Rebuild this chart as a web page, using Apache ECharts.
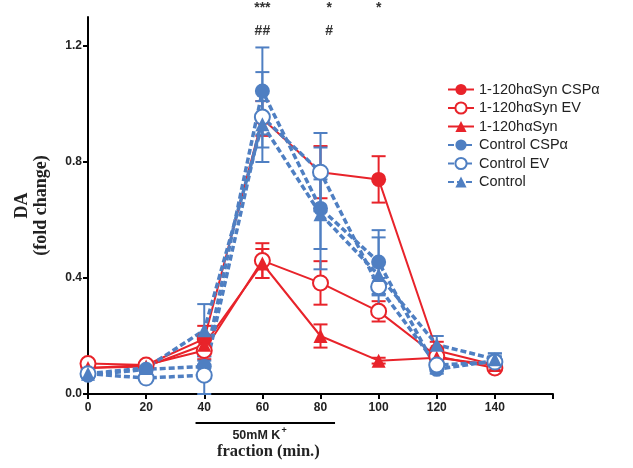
<!DOCTYPE html>
<html><head><meta charset="utf-8">
<script src="https://cdn.jsdelivr.net/npm/echarts@6/dist/echarts.min.js"></script>
<style>html,body{margin:0;padding:0;background:#fff}#c{width:633px;height:468px}</style>
</head><body><div id="c"></div>
<script>
const xValues = [0, 20, 40, 60, 80, 100, 120, 140];
const xTickLabels = [0, 20, 40, 60, 80, 100, 120, 140];
const yTickLabels = [0, 0.4, 0.8, 1.2];

const synCspMean = [0.09, 0.10, 0.19, 0.95, 0.765, 0.74, 0.15, 0.10];
const synCspErr  = [0.01, 0.01, 0.045, 0.06, 0.09, 0.08, 0.03, 0.015];
const synEvMean  = [0.105, 0.10, 0.15, 0.46, 0.383, 0.285, 0.13, 0.09];
const synEvErr   = [0.01, 0.01, 0.03, 0.06, 0.075, 0.035, 0.02, 0.01];
const synMean    = [0.09, 0.095, 0.17, 0.45, 0.20, 0.115, 0.125, 0.10];
const synErr     = [0.01, 0.01, 0.03, 0.05, 0.04, 0.01, 0.02, 0.01];
const ctlCspMean = [0.065, 0.085, 0.095, 1.045, 0.64, 0.455, 0.085, 0.115];
const ctlCspErr  = [0.01, 0.01, 0.02, 0.15, 0.21, 0.11, 0.015, 0.025];
const ctlEvMean  = [0.07, 0.055, 0.065, 0.955, 0.765, 0.37, 0.10, 0.11];
const ctlEvErr   = [0.01, 0.01, 0.065, 0.155, 0.135, 0.03, 0.02, 0.02];
const ctlMean    = [0.07, 0.09, 0.22, 0.93, 0.62, 0.41, 0.17, 0.12];
const ctlErr     = [0.01, 0.01, 0.09, 0.08, 0.12, 0.13, 0.03, 0.02];

const seriesNames = ['1-120hαSyn CSPα', '1-120hαSyn EV', '1-120hαSyn', 'Control CSPα', 'Control EV', 'Control'];
const annotations = [
  {x: 60, text: '***', row: 0}, {x: 60, text: '##', row: 1},
  {x: 83, text: '*', row: 0}, {x: 83, text: '#', row: 1},
  {x: 100, text: '*', row: 0}
];
const stimulusRange = [37, 85];

const RED = '#e8232a', BLUE = '#4f7fc2';

function lineSeries(name, mean, color, symbol, dashed) {
  return {
    type: 'line', name: name,
    data: xValues.map((x, i) => [x, mean[i]]),
    symbol: symbol, symbolSize: symbol === 'triangle' ? 14 : 15,
    itemStyle: {color: color, borderColor: color, borderWidth: symbol === 'emptyCircle' ? 2 : 0},
    lineStyle: {color: color, width: dashed ? 3.5 : 2, type: dashed ? [6, 3] : 'solid'},
    z: 3
  };
}
function errSeries(id, mean, err, color) {
  return {
    type: 'custom', name: id, silent: true, z: 2,
    data: xValues.map((x, i) => [x, mean[i] - err[i], mean[i] + err[i]]),
    encode: {x: 0, y: [1, 2]},
    renderItem: function (params, api) {
      const xv = api.value(0);
      const lo = api.coord([xv, api.value(1)]);
      const hi = api.coord([xv, api.value(2)]);
      const w = 7;
      const st = {stroke: color, lineWidth: 2};
      return {type: 'group', children: [
        {type: 'line', shape: {x1: lo[0], y1: lo[1], x2: hi[0], y2: hi[1]}, style: st},
        {type: 'line', shape: {x1: lo[0] - w, y1: lo[1], x2: lo[0] + w, y2: lo[1]}, style: st},
        {type: 'line', shape: {x1: hi[0] - w, y1: hi[1], x2: hi[0] + w, y2: hi[1]}, style: st}
      ]};
    }
  };
}

const chart = echarts.init(document.getElementById('c'), null, {renderer: 'canvas'});
const axisFont = {fontFamily: 'Liberation Sans, Arial', fontWeight: 'bold', fontSize: 12, color: '#222'};
const option = {
  backgroundColor: '#fff',
  animation: false,
  grid: {left: 88, right: 80, top: 17, bottom: 74, containLabel: false, outerBoundsMode: 'none'},
  legend: {
    data: seriesNames, orient: 'vertical', left: 442, top: 77,
    itemWidth: 26, itemHeight: 14, itemGap: 3.5,
    textStyle: {fontFamily: 'Liberation Sans, Arial', fontSize: 14.5, color: '#222'}
  },
  xAxis: {
    type: 'value', min: 0, max: 160, interval: 20,
    axisLine: {lineStyle: {color: '#000', width: 2}},
    axisTick: {inside: false, length: 5, lineStyle: {color: '#000', width: 2}},
    axisLabel: Object.assign({margin: 8, customValues: xTickLabels, formatter: v => String(v)}, axisFont),
    splitLine: {show: false}
  },
  yAxis: {
    type: 'value', min: 0, max: 1.3, interval: 0.4,
    name: 'DA\n(fold change)', nameLocation: 'middle', nameGap: 37, nameRotate: 90,
    nameTextStyle: {fontFamily: 'Liberation Serif, Times New Roman', fontWeight: 'bold', fontSize: 18, color: '#222', lineHeight: 19},
    axisLine: {show: true, lineStyle: {color: '#000', width: 2}},
    axisTick: {show: true, inside: false, length: 5, customValues: yTickLabels, lineStyle: {color: '#000', width: 2}},
    axisLabel: Object.assign({margin: 6, customValues: yTickLabels, formatter: v => v.toFixed(1)}, axisFont),
    splitLine: {show: false}
  },
  series: [
    errSeries('e1', synCspMean, synCspErr, RED),
    errSeries('e2', synEvMean, synEvErr, RED),
    errSeries('e3', synMean, synErr, RED),
    errSeries('e4', ctlCspMean, ctlCspErr, BLUE),
    errSeries('e5', ctlEvMean, ctlEvErr, BLUE),
    errSeries('e6', ctlMean, ctlErr, BLUE),
    lineSeries(seriesNames[0], synCspMean, RED, 'circle', false),
    lineSeries(seriesNames[1], synEvMean, RED, 'emptyCircle', false),
    lineSeries(seriesNames[2], synMean, RED, 'triangle', false),
    lineSeries(seriesNames[3], ctlCspMean, BLUE, 'circle', true),
    lineSeries(seriesNames[4], ctlEvMean, BLUE, 'emptyCircle', true),
    lineSeries(seriesNames[5], ctlMean, BLUE, 'triangle', true)
  ]
};
chart.setOption(option);

const p0 = chart.convertToPixel({gridIndex: 0}, [stimulusRange[0], 0]);
const p1 = chart.convertToPixel({gridIndex: 0}, [stimulusRange[1], 0]);
const mid = chart.convertToPixel({gridIndex: 0}, [60, 0]);
const graphics = [
  {type: 'line', shape: {x1: p0[0], y1: p0[1] + 29, x2: p1[0], y2: p1[1] + 29}, style: {stroke: '#000', lineWidth: 2}},
  {type: 'text', x: mid[0] - 6, y: mid[1] + 42, style: {text: '50mM K', fontFamily: 'Liberation Sans, Arial', fontWeight: 'bold', fontSize: 12.5, fill: '#222', align: 'center', verticalAlign: 'middle'}},
  {type: 'text', x: mid[0] + 19, y: mid[1] + 37, style: {text: '+', fontFamily: 'Liberation Sans, Arial', fontWeight: 'bold', fontSize: 9, fill: '#222', align: 'left', verticalAlign: 'middle'}},
  {type: 'text', x: mid[0] + 6, y: mid[1] + 58, style: {text: 'fraction (min.)', fontFamily: 'Liberation Serif, Times New Roman', fontWeight: 'bold', fontSize: 16.5, fill: '#222', align: 'center', verticalAlign: 'middle'}}
];
annotations.forEach(a => {
  const p = chart.convertToPixel({gridIndex: 0}, [a.x, 0]);
  graphics.push({type: 'text', x: p[0], y: a.row === 0 ? 8 : 31, style: {text: a.text, fontFamily: 'Liberation Sans, Arial', fontWeight: 'bold', fontSize: 14, fill: '#333', align: 'center', verticalAlign: 'middle'}});
});
chart.setOption({graphic: graphics});
</script></body></html>
